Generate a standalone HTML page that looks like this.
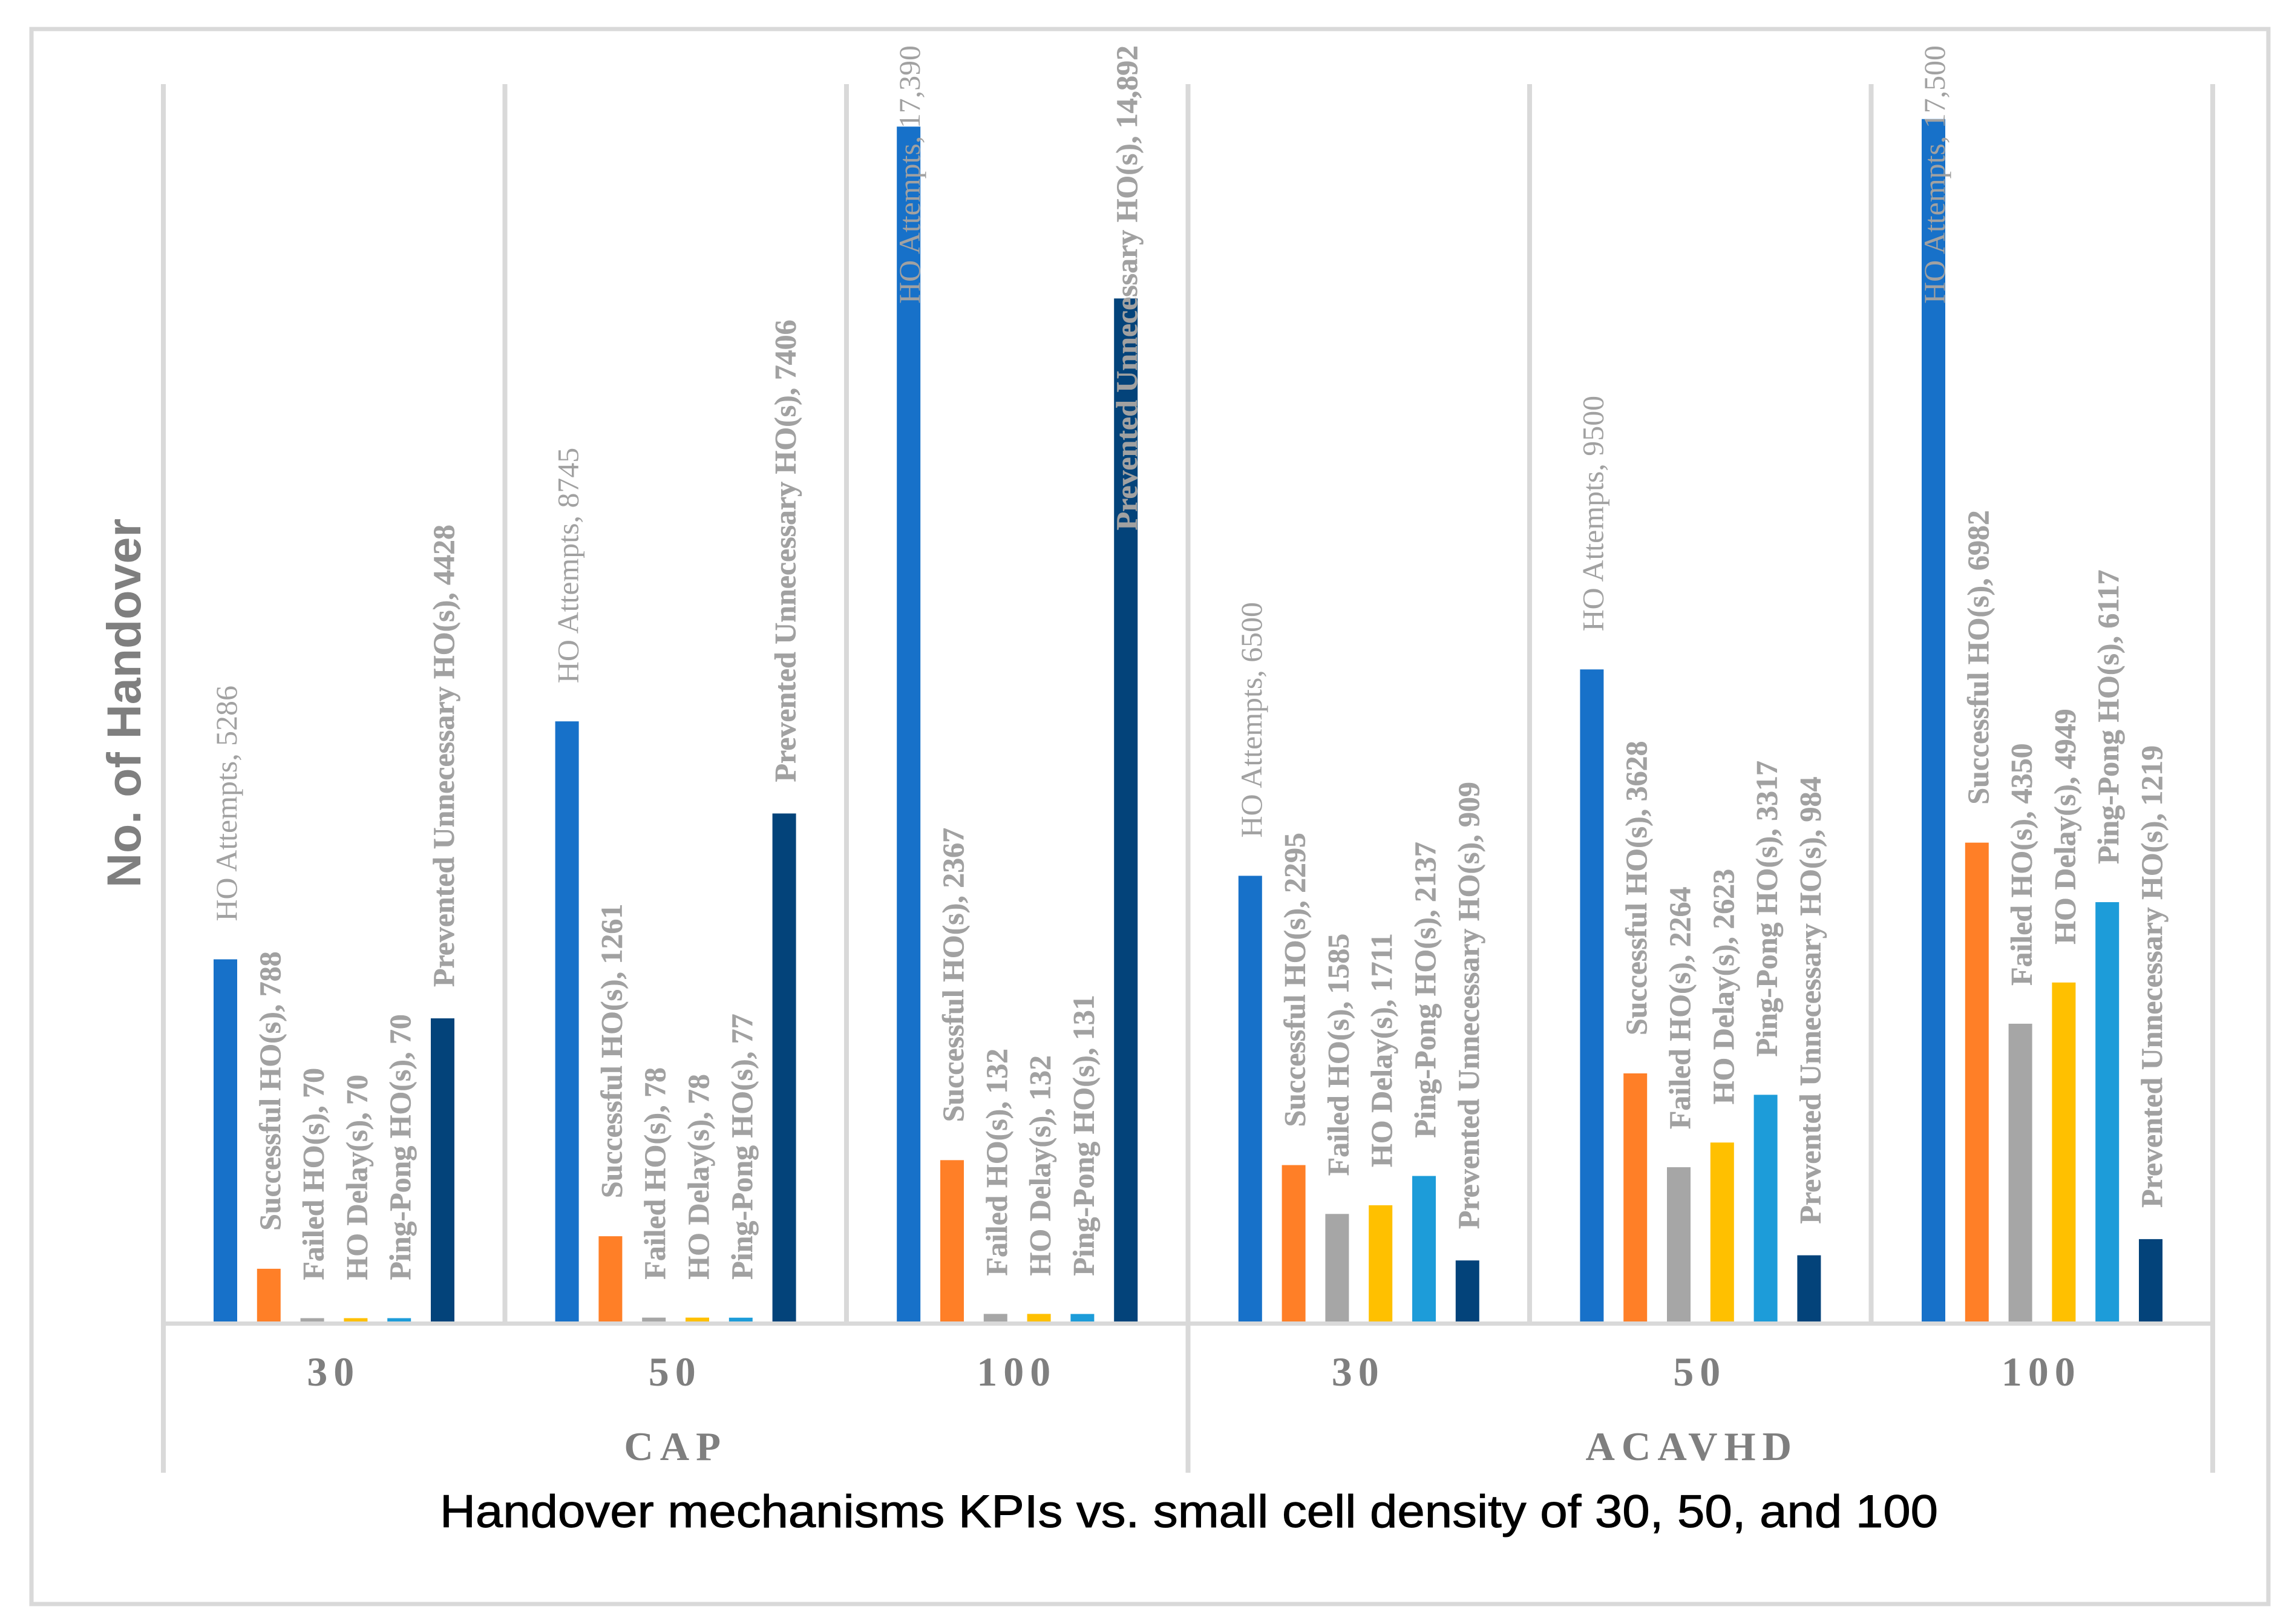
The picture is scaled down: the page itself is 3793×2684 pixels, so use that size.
<!DOCTYPE html>
<html lang="en">
<head>
<meta charset="utf-8">
<title>Handover mechanisms KPIs</title>
<style>
html,body{margin:0;padding:0;background:#fff;}
svg{display:block;}
text{font-family:"Liberation Serif",serif;}
</style>
</head>
<body>
<svg id="chart" xmlns="http://www.w3.org/2000/svg" width="3793" height="2684" viewBox="0 0 3793 2684">
  <rect x="0" y="0" width="3793" height="2684" fill="#ffffff"/>
  <rect x="52" y="48" width="3697" height="2603" fill="none" stroke="#d9d9d9" stroke-width="7"/>
  <g id="bars"></g>
  <g id="axes"></g>
  <g id="labels"></g>
  <g id="cats"></g>
  <text transform="translate(232,1467) rotate(-90)" style="font-family:'Liberation Sans',sans-serif;font-weight:bold;font-size:79px" fill="#7f7f7f">No. of Handover</text>
  <text x="727" y="2524" textLength="2476" lengthAdjust="spacingAndGlyphs" stroke="#000000" stroke-width="1" style="font-family:'Liberation Sans',sans-serif;font-size:76px" fill="#000000">Handover mechanisms KPIs vs. small cell density of 30, 50, and 100</text>
</svg>
<script>
const densities = ["30", "50", "100", "30", "50", "100"];
const mechanisms = ["CAP", "ACAVHD"];
const seriesNames = ["HO Attempts", "Successful HO(s)", "Failed HO(s)", "HO Delay(s)", "Ping-Pong HO(s)", "Prevented Unnecessary HO(s)"];
const hoAttempts = [5286, 8745, 17390, 6500, 9500, 17500];
const successfulHO = [788, 1261, 2367, 2295, 3628, 6982];
const failedHO = [70, 78, 132, 1585, 2264, 4350];
const hoDelay = [70, 78, 132, 1711, 2623, 4949];
const pingPongHO = [70, 77, 131, 2137, 3317, 6117];
const preventedHO = [4428, 7406, 14892, 909, 984, 1219];

const allSeries = [hoAttempts, successfulHO, failedHO, hoDelay, pingPongHO, preventedHO];
const seriesColors = ["#1771c9", "#ff7f27", "#a6a6a6", "#ffc000", "#1d9cd9", "#03437a"];
const SVGNS = "http://www.w3.org/2000/svg";
const ZERO_Y = 2186.5;
const PX_PER_UNIT = 0.1137;
const BAR_W = 39;
const LABEL_TOP = 75;

function yScale(v) { return ZERO_Y - v * PX_PER_UNIT; }
function groupEdge(g) { return 270 + g * (3657 - 270) / densities.length; }
function barX(g, s) { return 353 + g * 564.6 + s * 71.8; }
function fmt(v) { return v >= 10000 ? v.toLocaleString("en-US") : String(v); }

function mk(tag, attrs) {
  const el = document.createElementNS(SVGNS, tag);
  for (const k in attrs) el.setAttribute(k, attrs[k]);
  return el;
}

const axes = document.getElementById("axes");
const bars = document.getElementById("bars");
const labels = document.getElementById("labels");
const cats = document.getElementById("cats");

for (let i = 0; i <= densities.length; i++) {
  const isLong = i % 3 === 0;
  const line = mk("line", {x1: groupEdge(i), x2: groupEdge(i), y1: 139, y2: isLong ? 2434 : 2184, stroke: "#d9d9d9", "stroke-width": 8});
  
  
  axes.appendChild(line);
}
const axisLine = mk("line", {x1: 266, x2: 3661, y1: 2187.5, y2: 2187.5, stroke: "#d9d9d9", "stroke-width": 7});


axes.appendChild(axisLine);

allSeries.forEach(function (values, s) {
  values.forEach(function (v, g) {
    const x = barX(g, s);
    const top = yScale(v);
    const bar = mk("rect", {x: x, y: top, width: BAR_W, height: ZERO_Y - top, fill: seriesColors[s]});
    
    
    bars.appendChild(bar);

    const gap = s === 5 ? 52 : 63;
    const t = mk("text", {"font-size": 49.9, fill: "#a1a1a1", stroke: "#a1a1a1", "stroke-width": s === 0 ? 0 : 0.5, "font-weight": s === 0 ? "normal" : "bold"});
    t.textContent = seriesNames[s] + ", " + fmt(v);
    
    
    labels.appendChild(t);
    const baseX = x + BAR_W - 1;
    let start = top - gap;
    const len = t.getComputedTextLength();
    if (start - len < LABEL_TOP) start = LABEL_TOP + len;
    t.setAttribute("transform", "translate(" + baseX + "," + start + ") rotate(-90)");
  });
});

densities.forEach(function (d, g) {
  const t = mk("text", {x: (groupEdge(g) + groupEdge(g + 1)) / 2 - 1, y: 2290, "text-anchor": "middle", "font-size": 68, "font-weight": "bold", fill: "#7f7f7f", "letter-spacing": 10});
  t.textContent = d;
  
  
  cats.appendChild(t);
});
mechanisms.forEach(function (m, i) {
  const t = mk("text", {x: (groupEdge(i * 3) + groupEdge(i * 3 + 3)) / 2 - (i === 1 ? 14 : 0), y: 2413, "text-anchor": "middle", "font-size": 67, "font-weight": "bold", fill: "#7f7f7f", "letter-spacing": 11});
  t.textContent = m;
  
  
  cats.appendChild(t);
});
</script>
</body>
</html>
